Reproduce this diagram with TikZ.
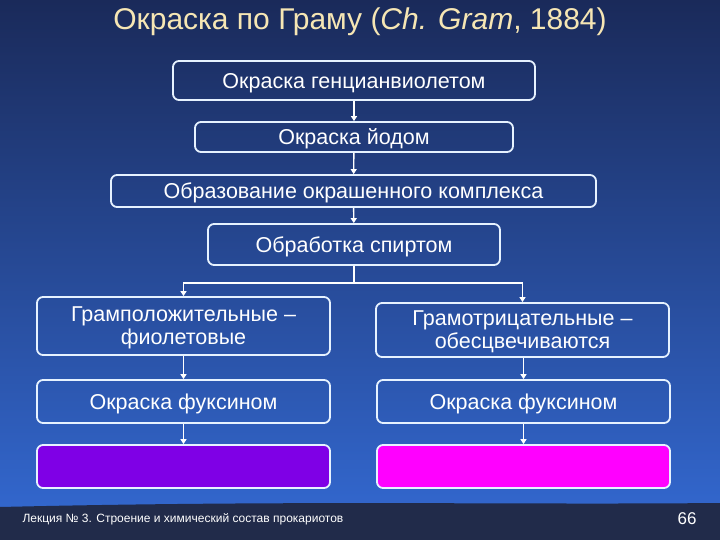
\documentclass[tikz,border=0pt]{standalone}
\usepackage{fontspec}
\setmainfont{Liberation Sans}
\usetikzlibrary{positioning,arrows.meta}
\definecolor{bgtop}{HTML}{1A2A5A}
\definecolor{bgmid}{HTML}{25438F}
\definecolor{bgbot}{HTML}{3266CC}
\definecolor{footcol}{HTML}{212B4A}
\definecolor{titlecol}{HTML}{F6E6B4}
\definecolor{edgecol}{HTML}{E6F2FF}
\definecolor{violetres}{HTML}{7F00E6}
\definecolor{magentares}{HTML}{FF00FF}

\begin{document}
\begin{tikzpicture}[x=1pt,y=-1pt,
  stage/.style={draw=edgecol,line width=1.8pt,rounded corners=6pt,text=white,inner sep=0pt,text depth=0pt,align=center,font=\fontsize{21.5}{23}\selectfont},
  result/.style={stage,minimum width=293pt,minimum height=43pt},
  flow/.style={draw=white,line width=1.4pt,-{Triangle[width=6pt,length=5pt]}}]
  % background
  \useasboundingbox (0,0) rectangle (720,540);
  \shade[top color=bgtop,middle color=bgmid,bottom color=bgbot] (0,0) rectangle (720,506);
  \fill[footcol] (0,507) .. controls (300,500) and (500,505) .. (720,503) -- (720,540) -- (0,540) -- cycle;
  % title
  \node[text=titlecol,font=\fontsize{30}{34}\selectfont] (title) at (360,22) {Окраска по Граму (\textit{Ch. Gram}, 1884)};
  % stages
  \node[stage,minimum width=362pt,minimum height=39pt] (gentian) at (354,80.5) {Окраска генцианвиолетом};
  \node[stage,minimum width=318pt,minimum height=30pt] (iodine) at (354,137) {Окраска йодом};
  \node[stage,minimum width=485pt,minimum height=32pt] (complex) at (353.5,191) {Образование окрашенного комплекса};
  \node[stage,minimum width=292pt,minimum height=41pt] (alcohol) at (354,244.5) {Обработка спиртом};
  \node[result,minimum height=58pt] (gpos) at (183.5,326) {Грамположительные –\\фиолетовые};
  \node[result,minimum height=54pt] (gneg) at (522.5,330) {Грамотрицательные –\\обесцвечиваются};
  \node[result] (fuchsL) at (183.5,401.5) {Окраска фуксином};
  \node[result] (fuchsR) at (523.5,401.5) {Окраска фуксином};
  \node[result,fill=violetres] (violetL) at (183.5,466.5) {};
  \node[result,fill=magentares] (magentaR) at (523.5,466.5) {};
  % arrows
  \draw[flow] (gentian) -- (iodine);
  \draw[flow] (iodine) -- (complex);
  \draw[flow] (complex) -- (alcohol);
  \coordinate (fork) at (354,283);
  \draw[white,line width=1.4pt] (alcohol.south) -- (fork);
  \draw[flow] (fork) -| (gpos.north);
  \draw[flow] (fork) -| (gneg.north);
  \draw[flow] (gpos) -- (fuchsL);
  \draw[flow] (fuchsL) -- (violetL);
  \draw[flow] (gneg.south -| fuchsR) -- (fuchsR);
  \draw[flow] (fuchsR) -- (magentaR);
  % footer
  \node[text=white,font=\fontsize{12}{14}\selectfont,anchor=west] (lecture) at (19,519) {Лекция № 3. Строение и химический состав прокариотов};
  \node[text=white,font=\fontsize{17}{19}\selectfont] (page) at (687,519) {66};
\end{tikzpicture}
\end{document}
